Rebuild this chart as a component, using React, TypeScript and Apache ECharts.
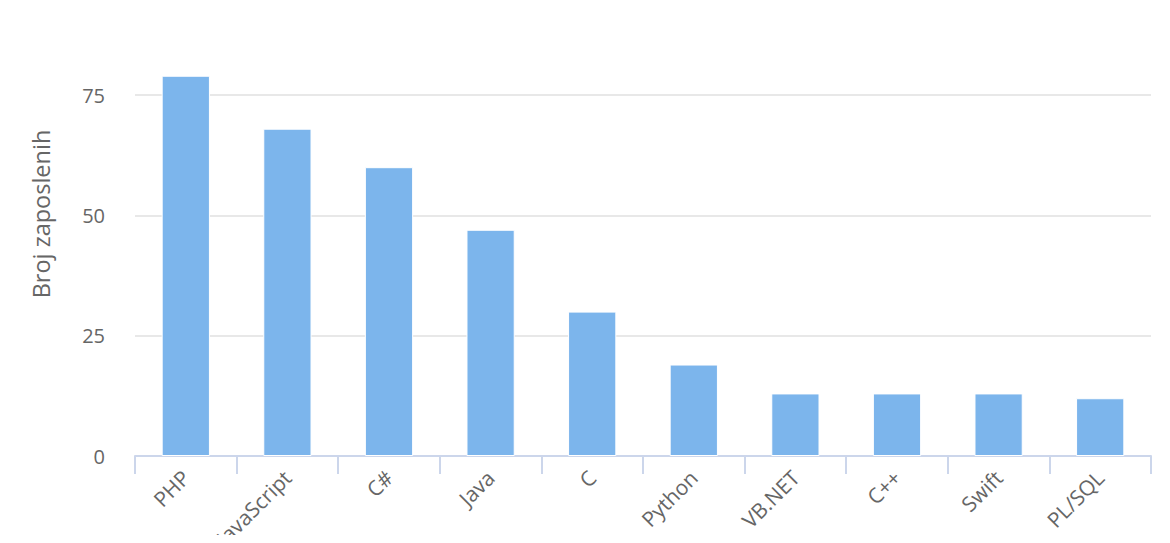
import React, { useEffect, useRef } from "react";
import * as echarts from "echarts";

const categories = ["PHP", "JavaScript", "C#", "Java", "C", "Python", "VB.NET", "C++", "Swift", "PL/SQL"];
const values = [79, 68, 60, 47, 30, 19, 13, 13, 13, 12];
const yTicks = [0, 25, 50, 75];
const yTitle = "Broj zaposlenih";

export default function App() {
  const ref = useRef<HTMLDivElement>(null);
  useEffect(() => {
    if (!ref.current) return;
    const chart = echarts.init(ref.current, undefined, { renderer: "svg" });
    const font = "'Open Sans', sans-serif";
    chart.setOption({
      animation: false,
      backgroundColor: "#ffffff",
      grid: { left: 127, right: 11, top: 87, bottom: 79, containLabel: false, outerBoundsMode: "none" },
      xAxis: {
        type: "category",
        data: categories,
        axisLine: { lineStyle: { color: "#ccd6eb", width: 2 } },
        axisTick: { show: true, length: 18, lineStyle: { color: "#ccd6eb", width: 2 } },
        axisLabel: { rotate: 45, interval: 0, color: "#666666", fontSize: 21, fontFamily: font, margin: 18 },
      },
      yAxis: {
        type: "value",
        min: yTicks[0],
        max: yTicks[yTicks.length - 1],
        interval: 25,
        axisLine: { show: false },
        axisTick: { show: false },
        splitLine: { lineStyle: { color: "#e0e0e0", width: 1.5 } },
        axisLabel: { color: "#666666", fontSize: 20, fontFamily: font, margin: 30 },
      },
      graphic: [
        {
          type: "text",
          x: 33,
          y: 206,
          rotation: Math.PI / 2,
          style: {
            text: yTitle,
            fill: "#666666",
            font: `23.5px ${font}`,
            align: "center",
            verticalAlign: "middle",
          },
        },
      ],
      series: [
        {
          type: "bar",
          data: values,
          clip: false,
          barWidth: "47.5%",
          itemStyle: { color: "#7cb5ec", borderColor: "#ffffff", borderWidth: 1 },
        },
      ],
    });
    return () => chart.dispose();
  }, []);
  return <div ref={ref} style={{ width: 1154, height: 527 }} />;
}
